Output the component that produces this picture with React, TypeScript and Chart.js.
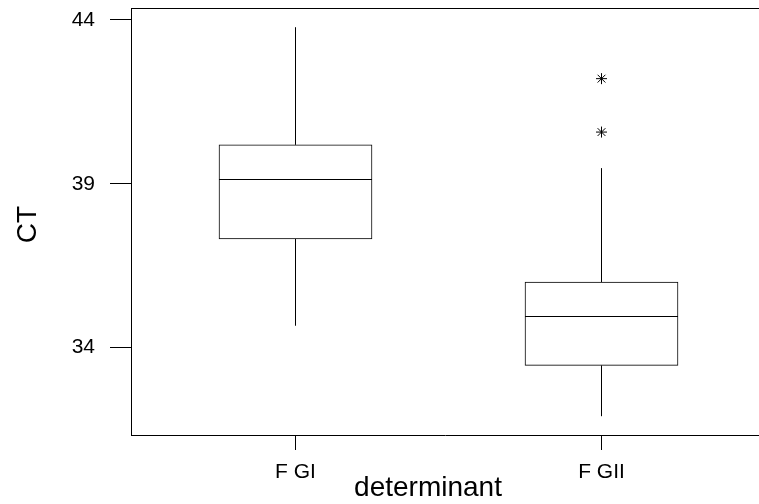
import React, { useEffect, useRef } from "react";
import { Chart, registerables } from "chart.js";

Chart.register(...registerables);

// ---- data ----
const categories = ["F GI", "F GII"];
const whiskerLow = [34.67, 31.91];
const q1 = [37.32, 33.46];
const median = [39.13, 34.95];
const q3 = [40.19, 36.0];
const whiskerHigh = [43.78, 39.48];
const outlierGroups = ["F GII", "F GII"];
const outlierValues = [42.21, 40.58];
const yTicks = [34, 39, 44];
const yRange = [31.336, 44.366];
const xRange = [0.4624, 2.5147];
const yTitle = "CT";
const xTitle = "determinant";

const FONT = "'Liberation Sans', Arial, Helvetica, sans-serif";
const W = 759;
const H = 504;

export default function App() {
  const ref = useRef<HTMLCanvasElement>(null);

  useEffect(() => {
    const canvas = ref.current;
    if (!canvas) return;
    Chart.defaults.font.family = FONT;

    const pos = (i: number) => i + 1;
    const datasets: any[] = [];
    datasets.push({
      type: "bar",
      label: "box",
      data: categories.map((_, i) => ({ x: pos(i), y: [q1[i], q3[i]] })),
      backgroundColor: "#ffffff",
      borderColor: "#000000",
      borderWidth: 1,
      borderSkipped: false,
      barThickness: 153,
      grouped: false,
      order: 1,
    });
    categories.forEach((_, i) => {
      datasets.push({
        type: "line",
        label: "upper whisker " + categories[i],
        data: [
          { x: pos(i), y: q3[i] },
          { x: pos(i), y: whiskerHigh[i] },
        ],
        borderColor: "#000000",
        borderWidth: 1,
        pointRadius: 0,
        fill: false,
        order: 2,
      });
      datasets.push({
        type: "line",
        label: "lower whisker " + categories[i],
        data: [
          { x: pos(i), y: whiskerLow[i] },
          { x: pos(i), y: q1[i] },
        ],
        borderColor: "#000000",
        borderWidth: 1,
        pointRadius: 0,
        fill: false,
        order: 2,
      });
    });
    datasets.push({
      type: "line",
      label: "outliers",
      data: outlierValues.map((v, k) => ({ x: categories.indexOf(outlierGroups[k]) + 1, y: v })),
      showLine: false,
      pointStyle: "star",
      pointRadius: 5.5,
      pointBorderWidth: 1,
      borderColor: "#000000",
      backgroundColor: "#000000",
      order: 0,
    });

    const overlay = {
      id: "overlay",
      afterDatasetsDraw(chart: any) {
        const { ctx, chartArea } = chart;
        const yScale = chart.scales.y;
        ctx.save();
        ctx.strokeStyle = "#000000";
        ctx.lineWidth = 1;
        const meta = chart.getDatasetMeta(0);
        meta.data.forEach((el: any, i: number) => {
          const y = Math.floor(yScale.getPixelForValue(median[i])) + 0.5;
          ctx.beginPath();
          ctx.moveTo(el.x - el.width / 2, y);
          ctx.lineTo(el.x + el.width / 2, y);
          ctx.stroke();
        });
        // top frame line
        const ty = Math.round(chartArea.top) + 0.5;
        ctx.beginPath();
        ctx.moveTo(chartArea.left, ty);
        ctx.lineTo(chartArea.right, ty);
        ctx.stroke();
        // axis titles
        ctx.fillStyle = "#000000";
        ctx.font = `28px ${FONT}`;
        ctx.textAlign = "center";
        ctx.textBaseline = "alphabetic";
        ctx.fillText(xTitle, 428, 496);
        ctx.translate(36, (chartArea.top + chartArea.bottom) / 2 + 3);
        ctx.rotate(-Math.PI / 2);
        ctx.fillText(yTitle, 0, 0);
        ctx.restore();
      },
    };

    const chart = new Chart(canvas, {
      type: "bar",
      data: { datasets },
      options: {
        animation: false,
        responsive: false,
        maintainAspectRatio: false,
        devicePixelRatio: 1,
        layout: { autoPadding: false, padding: { top: 8, left: 0, right: 0, bottom: 0 } },
        plugins: { legend: { display: false }, tooltip: { enabled: false } },
        scales: {
          x: {
            type: "linear",
            min: xRange[0],
            max: xRange[1],
            offset: false,
            grid: {
              offset: false,
              display: true,
              drawOnChartArea: false,
              drawTicks: true,
              tickLength: 15,
              color: "#000000",
              lineWidth: 1,
            },
            border: { display: true, color: "#000000", width: 1 },
            ticks: {
              color: "#000000",
              font: { size: 21 },
              padding: 10,
              maxRotation: 0,
              autoSkip: false,
              callback: (v: any) => categories[Math.round(Number(v)) - 1] ?? "",
            },
            afterBuildTicks: (s: any) => {
              s.ticks = categories.map((_, i) => ({ value: i + 1 }));
            },
            afterFit: (s: any) => {
              s.height = 69;
              s.paddingLeft = 0;
              s.paddingRight = 0;
            },
          },
          y: {
            type: "linear",
            min: yRange[0],
            max: yRange[1],
            grid: {
              display: true,
              drawOnChartArea: false,
              drawTicks: true,
              tickLength: 21,
              color: "#000000",
              lineWidth: 1,
            },
            border: { display: true, color: "#000000", width: 1 },
            ticks: {
              color: "#000000",
              font: { size: 21 },
              padding: 15,
            },
            afterBuildTicks: (s: any) => {
              s.ticks = yTicks.map((v) => ({ value: v }));
            },
            afterFit: (s: any) => {
              s.width = 131;
              s.paddingTop = 0;
              s.paddingBottom = 0;
            },
          },
        },
      } as any,
      plugins: [overlay],
    });

    return () => chart.destroy();
  }, []);

  return (
    <canvas
      ref={ref}
      width={W}
      height={H}
      style={{ position: "fixed", left: 0, top: 0, width: W, height: H, background: "#ffffff" }}
    />
  );
}
